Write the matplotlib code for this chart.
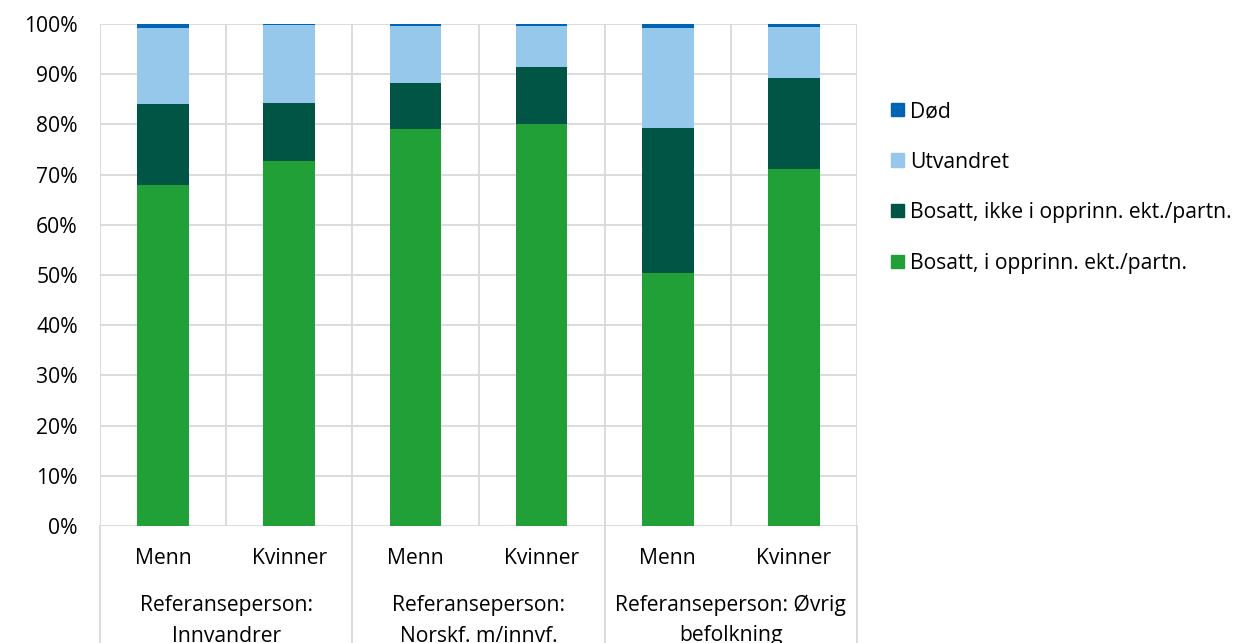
import numpy as np
import matplotlib.pyplot as plt
from matplotlib.patches import Patch
import matplotlib.transforms as mtransforms

plt.rcParams['font.family'] = ['Open Sans', 'DejaVu Sans']

bar_labels = ['Menn', 'Kvinner', 'Menn', 'Kvinner', 'Menn', 'Kvinner']
groups = [['Referanseperson:', 'Innvandrer'],
          ['Referanseperson:', 'Norskf. m/innvf.'],
          ['Referanseperson: Øvrig', 'befolkning']]

bosatt_i = [68.0, 72.7, 79.1, 80.1, 50.4, 71.1]
bosatt_ikke = [16.0, 11.6, 9.1, 11.3, 28.9, 18.2]
utvandret = [15.2, 15.5, 11.5, 8.3, 19.9, 10.2]
dod = [0.8, 0.2, 0.3, 0.3, 0.8, 0.5]

series = [('Bosatt, i opprinn. ekt./partn.', bosatt_i, '#21a038'),
          ('Bosatt, ikke i opprinn. ekt./partn.', bosatt_ikke, '#005545'),
          ('Utvandret', utvandret, '#96c8ec'),
          ('Død', dod, '#0064b4')]

grid_c = '#d9d9d9'
fs = 15.2

fig = plt.figure(figsize=(12.36, 6.43), dpi=100)
ax = fig.add_axes([100/1236, 1 - 526/643, 757/1236, 502/643])

x = np.arange(len(bar_labels))
bottom = np.zeros(len(x))
for name, vals, col in series:
    ax.bar(x, vals, width=0.41, bottom=bottom, color=col, label=name, zorder=3)
    bottom += np.array(vals)

ax.set_xlim(-0.5, len(x) - 0.5)
ax.set_ylim(0, 100)
ax.set_yticks(np.arange(0, 101, 10))
ax.set_yticklabels([f'{v}%' for v in range(0, 101, 10)], fontsize=fs)
ax.set_xticks([])
ax.set_xticks(np.arange(-0.5, len(x)), minor=True)
ax.grid(True, which='major', axis='y', color=grid_c, lw=1.3, zorder=0)
ax.grid(True, which='minor', axis='x', color=grid_c, lw=1.3, zorder=0)
ax.tick_params(axis='both', which='both', length=0, labelsize=fs, colors='black')
ax.tick_params(axis='y', pad=16)
for s in ax.spines.values():
    s.set_visible(False)

# multi-level category axis below
trans = mtransforms.blended_transform_factory(ax.transData, fig.transFigure)
for gx in [-0.5, 1.5, 3.5, 5.5]:
    ax.plot([gx, gx], [1 - 526/643, 0], transform=trans, color=grid_c, lw=1.3, clip_on=False)
for i, lab in enumerate(bar_labels):
    ax.text(i, 1 - 558/643, lab, transform=trans, ha='center', va='center', fontsize=fs)
for g, (l1, l2) in enumerate(groups):
    cx = 2 * g + 0.5
    ax.text(cx, 1 - 605/643, l1, transform=trans, ha='center', va='center', fontsize=fs)
    ax.text(cx, 1 - 636/643, l2, transform=trans, ha='center', va='center', fontsize=fs)

handles = [Patch(color=col, label=name) for name, vals, col in series][::-1]
fig.legend(handles=handles, loc='upper left', bbox_to_anchor=(891/1236, 1 - 101/643),
           frameon=False, fontsize=fs, handlelength=0.6, handleheight=0.6,
           handletextpad=0.3, labelspacing=1.40, borderaxespad=0, borderpad=0)

fig.savefig('out.png', dpi=100)
